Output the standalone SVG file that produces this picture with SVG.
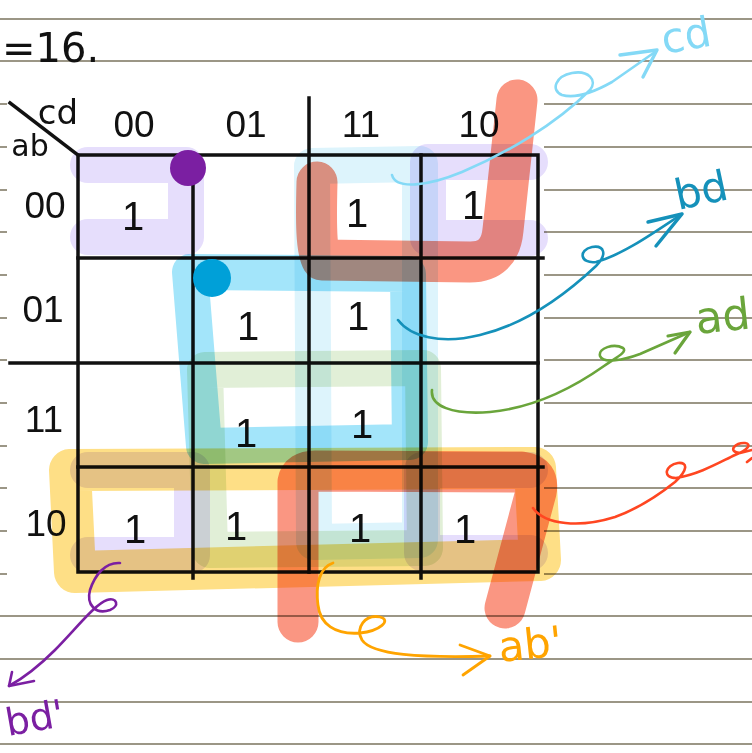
<svg xmlns="http://www.w3.org/2000/svg" width="752" height="753" viewBox="0 0 752 753">
<defs>
<style>
.rule{stroke:#9b9686;stroke-width:2.2;fill:none}
.grid{stroke:#111;stroke-width:3.5;fill:none;stroke-linecap:square}
.hl{fill:none;stroke-linecap:round;stroke-linejoin:round;mix-blend-mode:multiply}
.pen{fill:none;stroke-linecap:round;stroke-linejoin:round}
.lbl{font-family:"Liberation Sans",Arial,sans-serif;font-size:37px;fill:#111;text-anchor:middle}
.one{font-family:"Liberation Sans",Arial,sans-serif;font-size:40px;fill:#111;text-anchor:middle}
.hand{font-family:"DejaVu Sans","Liberation Sans",sans-serif;font-weight:normal}
</style>
</defs>
<rect width="752" height="753" fill="#fff"/>
<g id="paper">
<path class="rule" d="M0,19H752M0,61H752M0,616H752M0,659H752M0,702H752M0,744H752"/>
<path class="rule" d="M0,104H7M544,104H752M0,147H7M544,147H752M0,190H7M544,190H752M0,232H7M544,232H752M0,275H7M544,275H752M0,318H7M544,318H752M0,360H7M544,360H752M0,403H7M544,403H752M0,446H7M544,446H752M0,488H7M544,488H752M0,531H7M544,531H752M0,574H7M544,574H752"/>
</g>
<text x="2" y="62" class="hand" font-size="40" fill="#111">=16.</text>
<g id="kmap">
<path class="grid" d="M78,155H538V572H78Z"/>
<path class="grid" d="M193,155V578M309,98V572M421,155V578M78,258H543M10,363H538M78,467H543"/>
<path class="grid" d="M10,103L78,155" stroke-linecap="round"/>
<text x="58" y="124" class="hand" font-size="34" fill="#111" text-anchor="middle">cd</text>
<text x="30" y="156" class="hand" font-size="30" fill="#111" text-anchor="middle">ab</text>
<text x="134" y="137" class="lbl">00</text>
<text x="246" y="137" class="lbl">01</text>
<text x="361" y="137" class="lbl">11</text>
<text x="479" y="137" class="lbl">10</text>
<text x="45" y="218" class="lbl">00</text>
<text x="43" y="322" class="lbl">01</text>
<text x="44" y="432" class="lbl">11</text>
<text x="46" y="536" class="lbl">10</text>
<text x="133" y="230" class="one">1</text>
<text x="357" y="227" class="one">1</text>
<text x="473" y="219" class="one">1</text>
<text x="248" y="340" class="one">1</text>
<text x="358" y="330" class="one">1</text>
<text x="246" y="447" class="one">1</text>
<text x="362" y="438" class="one">1</text>
<text x="135" y="543" class="one">1</text>
<text x="236" y="540" class="one">1</text>
<text x="360" y="542" class="one">1</text>
<text x="465" y="543" class="one">1</text>
</g>
<g id="groups">
<g id="group-bdprime" stroke="#e6defc" stroke-width="36">
<path class="hl" d="M88,165H186V237H88"/>
<path class="hl" d="M530,162H428V238H530"/>
<path class="hl" d="M88,470H192V555H88"/>
<path class="hl" d="M530,470H422V553H530"/>
</g>
<path id="group-cd" class="hl" stroke="#ddf4fc" stroke-width="36" d="M312,166L420,164L420,540L314,542Z"/>
<path id="group-bd" class="hl" stroke="#a3e5fa" stroke-width="36" d="M190,272L408,274L410,442L204,446Z"/>
<path id="group-ad" class="hl" stroke="#e1efd7" stroke-width="36" d="M205,370L423,368L425,548L210,550Z"/>
<path id="group-abprime" class="hl" stroke="#fedf86" stroke-width="42" d="M70,470L535,468L540,560L75,572Z"/>
<g id="group-bprimec" stroke="#fa9682" stroke-width="41">
<path class="hl" d="M317,182C316,220 316,250 322,260L470,262Q500,262 503,230L517,100"/>
<path class="hl" d="M298,622L298,482Q300,471 315,471L522,472Q540,474 536,492L505,608"/>
</g>
<circle cx="188" cy="168" r="18" fill="#7b1fa2"/>
<circle cx="212" cy="278" r="19" fill="#00a0d8"/>
</g>
<g id="connectors">
<g stroke="#84d9f6" stroke-width="2.6">
<path class="pen" d="M392,175C396,190 428,186 462,172C505,154 555,125 590,90C598,80 588,70 572,73C556,76 550,90 562,95C576,99 596,91 612,82L655,52"/>
<path class="pen" d="M620,55L657,50L643,77" stroke-width="3.4"/>
</g>
<g stroke="#1591ba" stroke-width="2.6">
<path class="pen" d="M398,320C410,336 440,345 480,335C522,325 562,298 596,266C608,254 604,245 592,247C578,250 580,264 596,262C622,255 652,234 682,214"/>
<path class="pen" d="M648,222L682,214L656,246" stroke-width="3.4"/>
</g>
<g stroke="#6aa53b" stroke-width="2.6">
<path class="pen" d="M432,390C430,406 452,415 490,412C532,408 570,390 604,366C615,358 628,352 623,348C614,343 598,348 600,356C603,364 624,360 640,354L690,332"/>
<path class="pen" d="M668,336L690,332L675,353" stroke-width="3.2"/>
</g>
<g stroke="#ff4621" stroke-width="2.6">
<path class="pen" d="M533,508C545,525 580,528 615,517C640,508 660,494 675,482C688,470 688,462 678,463C665,465 662,478 676,478C700,474 720,462 735,455C748,450 752,444 745,443C735,442 727,452 740,453L752,450"/>
<path class="pen" d="M747,462L752,458"/>
</g>
<g stroke="#ffa400" stroke-width="2.8">
<path class="pen" d="M333,563C320,567 315,585 318,605C320,624 335,635 360,633C380,631 392,620 380,617C365,614 355,628 362,640C372,655 420,658 490,656"/>
<path class="pen" d="M460,645L490,656L463,675"/>
</g>
<g stroke="#7b1fa2" stroke-width="2.6">
<path class="pen" d="M120,563C105,562 95,575 90,590C86,605 96,615 110,610C120,606 117,597 107,600C95,604 75,630 55,650C35,670 20,680 9,686"/>
<path class="pen" d="M12,672L9,686L34,681"/>
</g>
</g>
<g id="labels">
<text class="hand" font-size="42" fill="#84d9f6" transform="translate(664,54) rotate(-10)">cd</text>
<text class="hand" font-size="42" fill="#1591ba" transform="translate(678,210) rotate(-12)">bd</text>
<text class="hand" font-size="44" fill="#6aa53b" transform="translate(697,334) rotate(-6)">ad</text>
<text class="hand" font-size="42" fill="#ffa400" transform="translate(500,662) rotate(-6)">ab'</text>
<text class="hand" font-size="38" fill="#7b1fa2" transform="translate(8,736) rotate(-10)">bd'</text>
</g>
</svg>
